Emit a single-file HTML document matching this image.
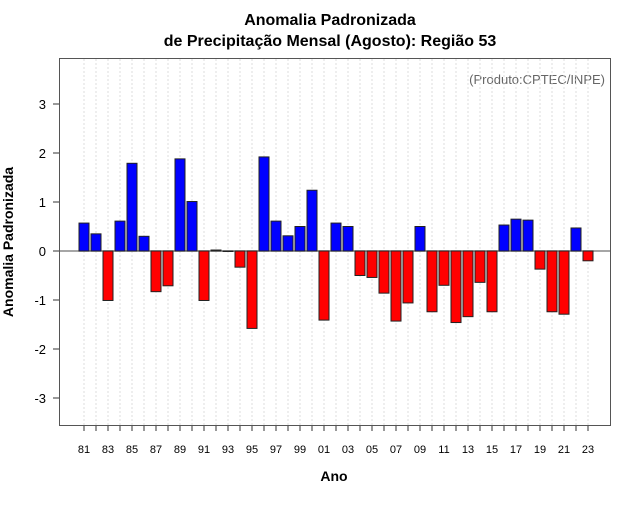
<!DOCTYPE html>
<html><head><meta charset="utf-8"><style>
body{margin:0;background:#fff;font-family:"Liberation Sans",sans-serif}
</style></head><body>
<svg id="chart" width="640" height="500" xmlns="http://www.w3.org/2000/svg" font-family="Liberation Sans, sans-serif">
<text x="330" y="25" text-anchor="middle" font-size="16" font-weight="bold">Anomalia Padronizada</text>
<text x="330" y="46" text-anchor="middle" font-size="16" font-weight="bold">de Precipitação Mensal (Agosto): Região 53</text>
<text x="334" y="481" text-anchor="middle" font-size="14" font-weight="bold">Ano</text>
<text transform="translate(13,242) rotate(-90)" text-anchor="middle" font-size="14" font-weight="bold">Anomalia Padronizada</text>
<text x="605" y="84" text-anchor="end" font-size="13" fill="#666">(Produto:CPTEC/INPE)</text>
<g id="grid"></g><g id="bars"></g><g id="axes"></g>
<rect x="59.5" y="58.5" width="551" height="367" fill="none" stroke="#555" stroke-width="1"/>
</svg>
<script>
const years=[81,82,83,84,85,86,87,88,89,90,91,92,93,94,95,96,97,98,99,0,1,2,3,4,5,6,7,8,9,10,11,12,13,14,15,16,17,18,19,20,21,22,23];
const values=[0.57,0.35,-1.01,0.61,1.79,0.30,-0.83,-0.71,1.88,1.01,-1.01,0.02,-0.01,-0.33,-1.58,1.92,0.61,0.31,0.50,1.24,-1.41,0.57,0.50,-0.50,-0.54,-0.86,-1.43,-1.06,0.50,-1.24,-0.70,-1.46,-1.34,-0.64,-1.24,0.53,0.65,0.63,-0.37,-1.24,-1.29,0.47,-0.20];
const yTicks=[-3,-2,-1,0,1,2,3];
const NS='http://www.w3.org/2000/svg';
const xs=i=>84+i*12;
const ys=v=>251-v*49;
function mk(t,a,p){const e=document.createElementNS(NS,t);for(const k in a)e.setAttribute(k,a[k]);p.appendChild(e);return e;}
const grid=document.getElementById('grid'),bars=document.getElementById('bars'),axes=document.getElementById('axes');
years.forEach((y,i)=>{
 const g=mk('line',{x1:xs(i),x2:xs(i),y1:59,y2:425,stroke:'#ddd','stroke-dasharray':'2,2'},grid);
 
 
 const t=mk('line',{x1:xs(i),x2:xs(i),y1:425,y2:431,stroke:'#333'},axes);
 
 
 if(i%2===0){const l=mk('text',{x:xs(i),y:453,'text-anchor':'middle','font-size':11},axes);l.textContent=String(y).padStart(2,'0');
 
 }
});
const z=mk('line',{x1:60,x2:610,y1:ys(0),y2:ys(0),stroke:'#888','stroke-width':1.5},grid);


values.forEach((v,i)=>{
 const top=Math.min(ys(v),ys(0)),h=Math.abs(ys(v)-ys(0));
 const b=mk('rect',{x:xs(i)-5,y:top,width:10,height:Math.max(h,0.5),fill:v>=0?'#0000ff':'#ff0000',stroke:'#222','stroke-width':1},bars);
 
 
});
yTicks.forEach(v=>{
 const t=mk('line',{x1:53,x2:59,y1:ys(v),y2:ys(v),stroke:'#333'},axes);
 
 
 const l=mk('text',{x:46,y:ys(v)+5,'text-anchor':'end','font-size':13},axes);l.textContent=v;
 
 
});
</script>
</body></html>
